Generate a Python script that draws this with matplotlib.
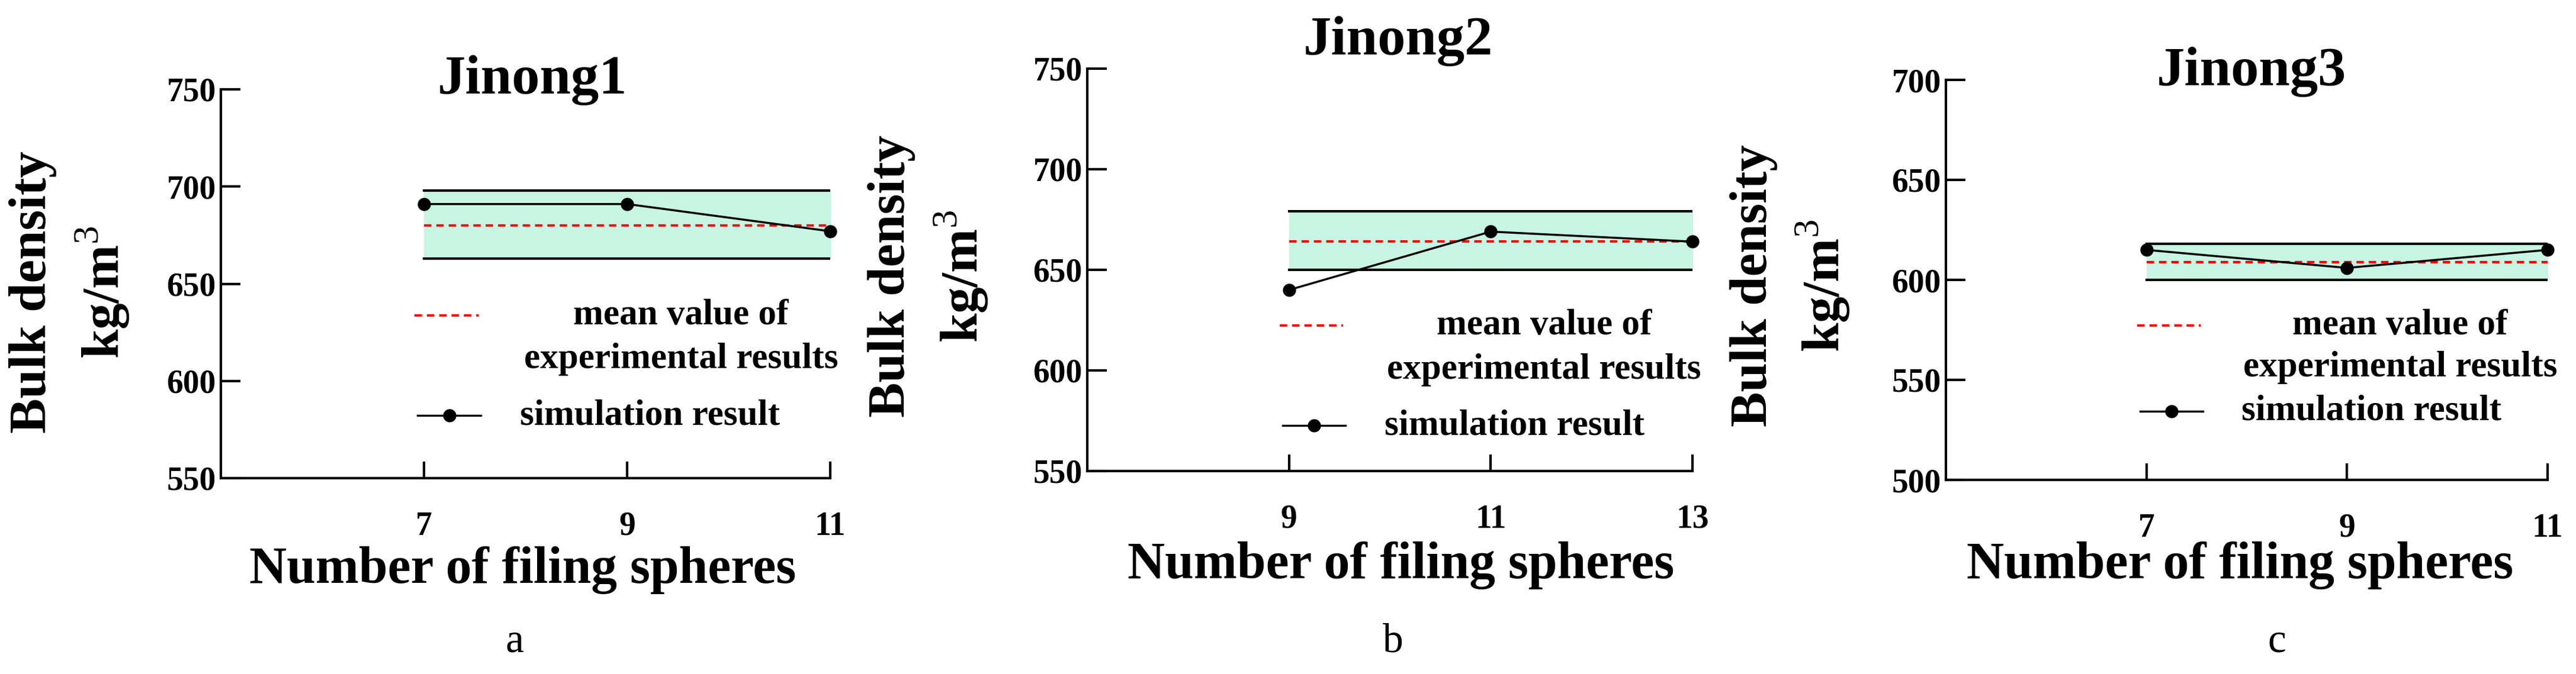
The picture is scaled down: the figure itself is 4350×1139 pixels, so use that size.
import matplotlib
matplotlib.use('Agg')
import matplotlib.pyplot as plt

plt.rcParams['font.family'] = ['Liberation Serif', 'DejaVu Serif']
plt.rcParams['mathtext.fontset'] = 'custom'
plt.rcParams['mathtext.rm'] = 'Liberation Serif'
plt.rcParams['mathtext.bf'] = 'Liberation Serif:bold'

# data
titles = ['Jinong1', 'Jinong2', 'Jinong3']
panel_tags = ['a', 'b', 'c']
spheres = [[7, 9, 11], [9, 11, 13], [7, 9, 11]]
sim_density = [[691, 691, 677], [640, 669, 664], [615, 606, 615]]
exp_mean = [680, 664, 609]
exp_low = [663, 650, 600]
exp_high = [698, 679, 618]
y_ranges = [(550, 750), (550, 750), (500, 700)]
x_ranges = [(5, 11), (7, 13), (5, 11)]

W, H = 4350, 1139
fig = plt.figure(figsize=(W / 100, H / 100), dpi=100)

# layout in pixels: left, right, top, bottom of each axes
boxes = [(373, 1402, 151, 808), (1836, 2858, 116, 796), (3286, 4302, 135, 811)]
title_xy = [(0.511, 1.023), (0.514, 1.068), (0.508, 1.02)]
leg_y = [(0.419, 0.306, 0.161), (0.362, 0.251, 0.113), (0.386, 0.281, 0.172)]
ylab_px = [(56, 173, 494), (1506, 1623, 467), (2961, 3078, 483)]
xlab_px = [(883, 963), (2366, 956), (3783, 956)]
tag_px = [(869, 1085), (2352, 1085), (3845, 1085)]

for i in range(3):
    l, r, t, b = boxes[i]
    ax = fig.add_axes([l / W, 1 - b / H, (r - l) / W, (b - t) / H])
    xs = spheres[i]
    ax.fill_between([xs[0], xs[-1]], exp_low[i], exp_high[i], color='#c8f5e3', zorder=1)
    ax.plot([xs[0], xs[-1]], [exp_low[i]] * 2, color='black', lw=3, zorder=2)
    ax.plot([xs[0], xs[-1]], [exp_high[i]] * 2, color='black', lw=3, zorder=2)
    ax.plot([xs[0], xs[-1]], [exp_mean[i]] * 2, color='red', lw=3, ls=(0, (3, 2)), zorder=3)
    ax.plot(xs, sim_density[i], color='black', lw=2.5, marker='o', ms=15, zorder=4,
            clip_on=False)

    ax.set_xlim(*x_ranges[i])
    ax.set_ylim(*y_ranges[i])
    ax.set_xticks(xs)
    lo, hi = y_ranges[i]
    ax.set_yticks(range(lo, hi + 1, 50))
    ax.spines['top'].set_visible(False)
    ax.spines['right'].set_visible(False)
    for s in ('left', 'bottom'):
        ax.spines[s].set_linewidth(3)
    ax.tick_params(axis='y', direction='in', length=24, width=3, pad=6, labelsize=40)
    ax.tick_params(axis='x', direction='in', length=20, width=3, pad=40, labelsize=40)
    for lab in ax.get_xticklabels() + ax.get_yticklabels():
        lab.set_fontweight('bold')
    ax.patch.set_alpha(0)

    ax.text(title_xy[i][0], title_xy[i][1], titles[i], transform=ax.transAxes,
            ha='center', va='center', fontsize=68, fontweight='bold')

    # hand-made legend
    y1, y2, y3 = leg_y[i]
    ax.plot([0.318, 0.423], [y1, y1], transform=ax.transAxes, color='red', lw=3,
            ls=(0, (3, 2)), clip_on=False)
    ax.text(0.755, y1, 'mean value of', transform=ax.transAxes, ha='center', va='center',
            fontsize=44, fontweight='bold')
    ax.text(0.755, y2, 'experimental results', transform=ax.transAxes, ha='center',
            va='center', fontsize=44, fontweight='bold')
    ax.plot([0.323, 0.427], [y3, y3], transform=ax.transAxes, color='black', lw=2.5,
            clip_on=False)
    ax.plot([0.375], [y3], transform=ax.transAxes, color='black', marker='o', ms=15,
            clip_on=False)
    ax.text(0.491, y3, 'simulation result', transform=ax.transAxes, ha='left',
            va='center', fontsize=44, fontweight='bold')

    x1, x2, yc = ylab_px[i]
    fig.text(x1 / W, 1 - yc / H, 'Bulk density', rotation=90, ha='center', va='center',
             fontsize=64, fontweight='bold')
    fig.text(x2 / W, 1 - yc / H, 'kg/m$^\\mathrm{3}$', rotation=90, ha='center',
             va='center', fontsize=64, fontweight='bold')
    fig.text(xlab_px[i][0] / W, 1 - xlab_px[i][1] / H, 'Number of filing spheres',
             ha='center', va='center', fontsize=63, fontweight='bold')
    fig.text(tag_px[i][0] / W, 1 - tag_px[i][1] / H, panel_tags[i], ha='center',
             va='center', fontsize=50)

fig.savefig('out.png', dpi=100, facecolor='white')
